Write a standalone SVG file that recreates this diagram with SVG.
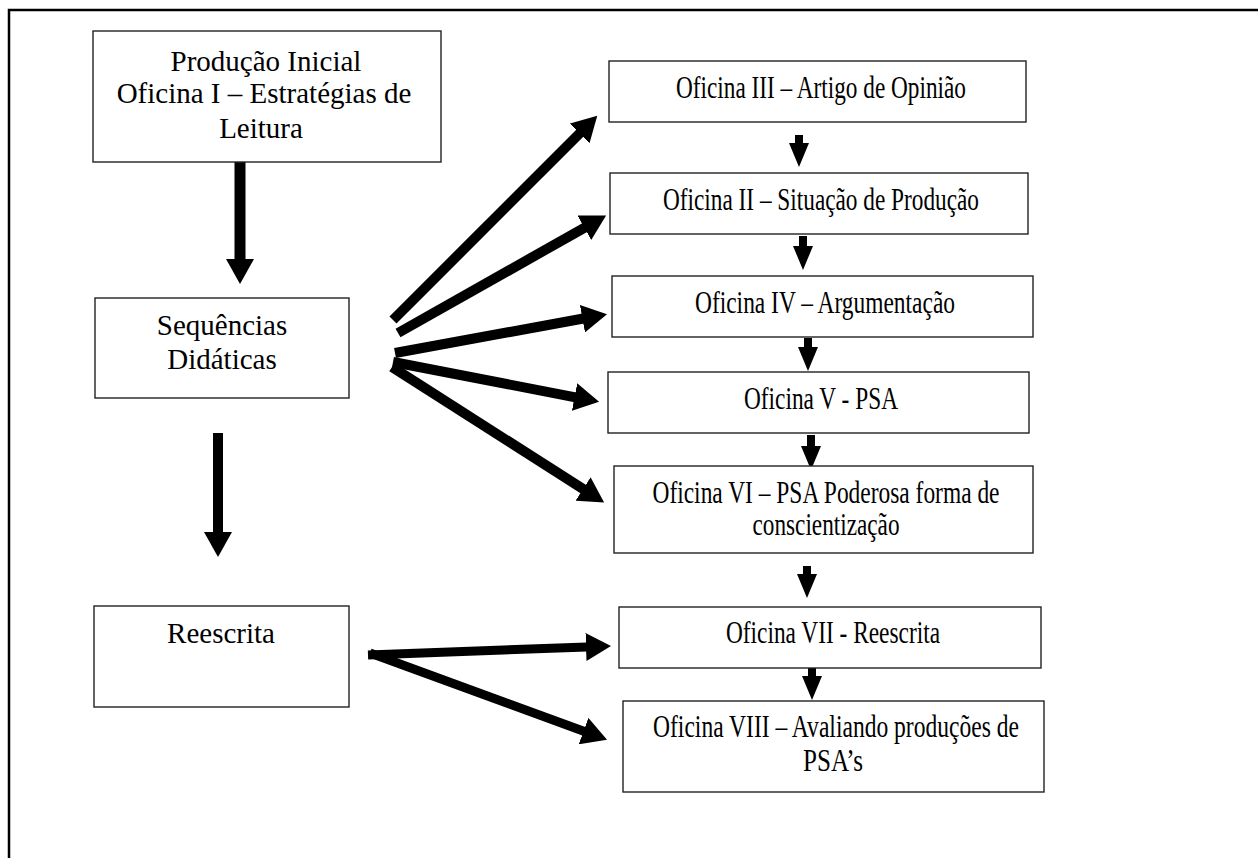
<svg xmlns="http://www.w3.org/2000/svg" width="1258" height="858" viewBox="0 0 1258 858">
<style>
.box{fill:#fff;stroke:#222;stroke-width:1.4}
.t{font-family:"Liberation Serif","Times New Roman",serif;font-size:29px;fill:#000;text-anchor:middle}
.r{font-size:31px}
.big{stroke:#000;stroke-width:11;fill:none;marker-end:url(#hb)}
.diag{stroke:#000;stroke-width:10;fill:none;marker-end:url(#hb)}
.sm{stroke:#000;stroke-width:8;fill:none;marker-end:url(#hs)}
</style>
<defs>
<marker id="hb" markerUnits="userSpaceOnUse" markerWidth="26" markerHeight="28" refX="1" refY="14" orient="auto">
<path d="M0,0 L25,14 L0,28 z" fill="#000"/>
</marker>
<marker id="hs" markerUnits="userSpaceOnUse" markerWidth="25" markerHeight="20" refX="1" refY="10" orient="auto">
<path d="M0,0 L24,10 L0,20 z" fill="#000"/>
</marker>
</defs>
<rect width="1258" height="858" fill="#fff"/>
<path d="M9,858 V10 H1258" fill="none" stroke="#000" stroke-width="2.5"/>

<g id="connectors">
<line class="big" x1="240" y1="162" x2="240" y2="260"/>
<line class="big" x1="218" y1="433" x2="218" y2="533" style="stroke-width:10"/>
<line class="diag" x1="393" y1="320" x2="580.3" y2="132.7"/>
<line class="diag" x1="398" y1="333" x2="585.2" y2="227.3"/>
<line class="diag" x1="395" y1="353" x2="583.4" y2="318.5"/>
<line class="diag" x1="393" y1="362" x2="575.5" y2="397.3"/>
<line class="diag" x1="392" y1="367" x2="583.9" y2="489.5"/>
<line class="diag" x1="368" y1="655" x2="587" y2="646.9" style="stroke-width:9"/>
<line class="diag" x1="370" y1="653" x2="584.5" y2="731.4" style="stroke-width:9"/>
<line class="sm" x1="799" y1="135" x2="799" y2="144"/>
<line class="sm" x1="803" y1="236" x2="803" y2="247"/>
<line class="sm" x1="808" y1="338" x2="808" y2="348"/>
<line class="sm" x1="811" y1="435" x2="811" y2="447"/>
<line class="sm" x1="807" y1="566" x2="807" y2="575"/>
<line class="sm" x1="812" y1="668" x2="812" y2="677"/>
</g>

<g id="producao-inicial">
<rect class="box" x="93" y="31" width="348" height="131"/>
<text class="t" x="266" y="71">Produção Inicial</text>
<text class="t" x="264" y="103">Oficina I – Estratégias de</text>
<text class="t" x="261" y="138">Leitura</text>
</g>
<g id="sequencias">
<rect class="box" x="95" y="298" width="254" height="100"/>
<text class="t" x="222" y="335">Sequências</text>
<text class="t" x="222" y="369">Didáticas</text>
</g>
<g id="reescrita">
<rect class="box" x="94" y="606" width="255" height="101"/>
<text class="t" x="221" y="643">Reescrita</text>
</g>
<g id="oficina-iii">
<rect class="box" x="609" y="61" width="417" height="61"/>
<text class="t r" x="821" y="98" textLength="290" lengthAdjust="spacingAndGlyphs">Oficina III – Artigo de Opinião</text>
</g>
<g id="oficina-ii">
<rect class="box" x="610" y="173" width="418" height="61"/>
<text class="t r" x="821" y="210" textLength="316" lengthAdjust="spacingAndGlyphs">Oficina II – Situação de Produção</text>
</g>
<g id="oficina-iv">
<rect class="box" x="612" y="276" width="421" height="61"/>
<text class="t r" x="825" y="313" textLength="260" lengthAdjust="spacingAndGlyphs">Oficina IV – Argumentação</text>
</g>
<g id="oficina-v">
<rect class="box" x="608" y="372" width="421" height="61"/>
<text class="t r" x="821" y="409" textLength="154" lengthAdjust="spacingAndGlyphs">Oficina V - PSA</text>
</g>
<g id="oficina-vi">
<rect class="box" x="614" y="466" width="419" height="87"/>
<text class="t r" x="826" y="503" textLength="347" lengthAdjust="spacingAndGlyphs">Oficina VI – PSA Poderosa forma de</text>
<text class="t r" x="826" y="535" textLength="147" lengthAdjust="spacingAndGlyphs">conscientização</text>
</g>
<g id="oficina-vii">
<rect class="box" x="619" y="607" width="422" height="61"/>
<text class="t r" x="833" y="643" textLength="214" lengthAdjust="spacingAndGlyphs">Oficina VII - Reescrita</text>
</g>
<g id="oficina-viii">
<rect class="box" x="623" y="701" width="421" height="91"/>
<text class="t r" x="836" y="737" textLength="366" lengthAdjust="spacingAndGlyphs">Oficina VIII – Avaliando produções de</text>
<text class="t r" x="833" y="771" textLength="60" lengthAdjust="spacingAndGlyphs">PSA’s</text>
</g>
</svg>
